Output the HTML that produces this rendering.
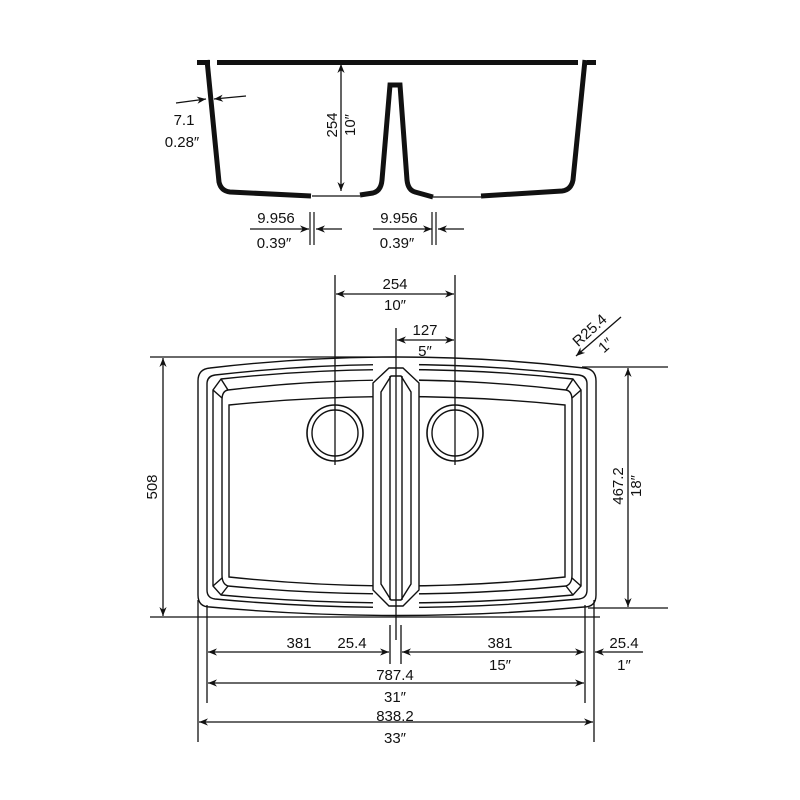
<!DOCTYPE html>
<html><head><meta charset="utf-8"><style>
html,body{margin:0;padding:0;background:#fff}
svg{display:block}
text{font-family:"Liberation Sans",sans-serif;font-size:15px;fill:#111;text-anchor:middle}
</style></head><body>
<svg width="800" height="800" viewBox="0 0 800 800" xmlns="http://www.w3.org/2000/svg">
<defs>
<marker id="a" viewBox="0 0 10 10" refX="10" refY="5" markerWidth="9" markerHeight="9" orient="auto-start-reverse" markerUnits="userSpaceOnUse"><path d="M0,1 L10,5 L0,9 L3,5 Z" fill="#111"/></marker>
</defs>
<g stroke="#111" fill="none">
<!-- Section view -->
<line x1="197" y1="62.5" x2="210" y2="62.5" stroke-width="5"/>
<line x1="217" y1="62.5" x2="578" y2="62.5" stroke-width="5"/>
<line x1="587" y1="62.5" x2="596" y2="62.5" stroke-width="5"/>
<path d="M207,60 L219,182 Q221,191 230,192 L311,196" stroke-width="5"/>
<path d="M360,195 L373,193 Q381,191 382,180 L390,85 L400,85 L407,180 Q408,190 415,192 L433,197" stroke-width="5"/>
<path d="M481,196 L562,191 Q571,190 573,180 L585,60" stroke-width="5"/>
<line x1="312" y1="196" x2="360" y2="196" stroke-width="1.2"/>
<line x1="433" y1="197" x2="481" y2="197" stroke-width="1.2"/>
<line x1="341" y1="64" x2="341" y2="191" stroke-width="1.3" marker-start="url(#a)" marker-end="url(#a)"/>
<line x1="176" y1="103" x2="206" y2="99" stroke-width="1.3" marker-end="url(#a)"/>
<line x1="246" y1="96" x2="214" y2="99" stroke-width="1.3" marker-end="url(#a)"/>
<line x1="250" y1="229" x2="309" y2="229" stroke-width="1.3" marker-end="url(#a)"/>
<line x1="342" y1="229" x2="316" y2="229" stroke-width="1.3" marker-end="url(#a)"/>
<line x1="310" y1="212" x2="310" y2="245" stroke-width="1.2"/>
<line x1="314" y1="212" x2="314" y2="245" stroke-width="1.2"/>
<line x1="373" y1="229" x2="432" y2="229" stroke-width="1.3" marker-end="url(#a)"/>
<line x1="464" y1="229" x2="438" y2="229" stroke-width="1.3" marker-end="url(#a)"/>
<line x1="432" y1="212" x2="432" y2="245" stroke-width="1.2"/>
<line x1="436" y1="212" x2="436" y2="245" stroke-width="1.2"/>

<!-- Plan view contours -->
<g stroke-width="1.4">
<path d="M210,368 Q397,346 584,368 Q596,369 596,381 L596,595 Q596,607 584,607 Q397,624 210,607 Q198,607 198,595 L198,381 Q198,369 210,368 Z"/>
<path d="M215,375 Q397,354 579,375 Q587,376 587,384 L587,590 Q587,598 579,599 Q397,616 215,599 Q207,598 207,590 L207,384 Q207,376 215,375 Z"/>
<path d="M221,379 Q397,360 573,379 L581,390 L581,586 L573,595 Q397,611 221,595 L213,586 L213,390 Z"/>
<path d="M228,390 Q397,370 566,390 Q572,391 572,400 L572,575 Q572,584 566,586 Q397,602 228,586 Q222,584 222,575 L222,400 Q222,391 228,390 Z"/>
<path d="M229,405 Q397,388 565,405 L565,577 Q397,595 229,577 Z"/>
<line x1="213" y1="390" x2="222" y2="398"/><line x1="221" y1="379" x2="228" y2="390"/>
<line x1="581" y1="390" x2="572" y2="398"/><line x1="573" y1="379" x2="566" y2="390"/>
<line x1="213" y1="586" x2="222" y2="578"/><line x1="221" y1="595" x2="228" y2="586"/>
<line x1="581" y1="586" x2="572" y2="578"/><line x1="573" y1="595" x2="566" y2="586"/>
</g>
<!-- divider -->
<rect x="373" y="362" width="46" height="250" fill="#fff" stroke="none"/>
<g stroke-width="1.4">
<path d="M373,383 L389,368 L403,368 L419,383 L419,590 L403,606 L389,606 L373,590 Z" fill="#fff"/>
<path d="M381,392 L391,376 L401,376 L411,392 L411,584 L401,600 L391,600 L381,584 Z"/>
<line x1="390" y1="376" x2="390" y2="600"/>
<line x1="402" y1="376" x2="402" y2="600"/>
</g>
<!-- drains -->
<circle cx="335" cy="433" r="28" stroke-width="1.6"/>
<circle cx="335" cy="433" r="23" stroke-width="1.4"/>
<circle cx="455" cy="433" r="28" stroke-width="1.6"/>
<circle cx="455" cy="433" r="23" stroke-width="1.4"/>

<!-- plan dims -->
<g stroke-width="1.3">
<line x1="335" y1="275" x2="335" y2="465"/>
<line x1="455" y1="275" x2="455" y2="465"/>
<line x1="396" y1="328" x2="396" y2="640"/>
<line x1="336" y1="294" x2="454" y2="294" marker-start="url(#a)" marker-end="url(#a)"/>
<line x1="397" y1="340" x2="454" y2="340" marker-start="url(#a)" marker-end="url(#a)"/>
<line x1="621" y1="317" x2="576" y2="356" marker-end="url(#a)"/>
<line x1="150" y1="357" x2="396" y2="357"/>
<line x1="150" y1="617" x2="600" y2="617"/>
<line x1="163" y1="358" x2="163" y2="616" marker-start="url(#a)" marker-end="url(#a)"/>
<line x1="582" y1="367" x2="668" y2="367"/>
<line x1="588" y1="608" x2="668" y2="608"/>
<line x1="628" y1="368" x2="628" y2="607" marker-start="url(#a)" marker-end="url(#a)"/>
<line x1="207" y1="605" x2="207" y2="703"/>
<line x1="585" y1="605" x2="585" y2="703"/>
<line x1="198" y1="600" x2="198" y2="742"/>
<line x1="594" y1="600" x2="594" y2="742"/>
<line x1="390" y1="625" x2="390" y2="664"/>
<line x1="401" y1="625" x2="401" y2="664"/>
<line x1="208" y1="652" x2="389" y2="652" marker-start="url(#a)" marker-end="url(#a)"/>
<line x1="402" y1="652" x2="584" y2="652" marker-start="url(#a)" marker-end="url(#a)"/>
<line x1="643" y1="652" x2="595" y2="652" marker-end="url(#a)"/>
<line x1="208" y1="683" x2="584" y2="683" marker-start="url(#a)" marker-end="url(#a)"/>
<line x1="199" y1="722" x2="593" y2="722" marker-start="url(#a)" marker-end="url(#a)"/>
</g>
</g>
<!-- labels -->
<text transform="translate(337,125) rotate(-90)">254</text>
<text transform="translate(355,125) rotate(-90)">10″</text>
<text x="184" y="125">7.1</text>
<text x="182" y="147">0.28″</text>
<text x="276" y="223">9.956</text>
<text x="274" y="248">0.39″</text>
<text x="399" y="223">9.956</text>
<text x="397" y="248">0.39″</text>
<text x="395" y="289">254</text>
<text x="395" y="310">10″</text>
<text x="425" y="335">127</text>
<text x="425" y="356">5″</text>
<text transform="translate(593,334) rotate(-42)">R25.4</text>
<text transform="translate(609,349) rotate(-42)">1″</text>
<text transform="translate(157,487) rotate(-90)">508</text>
<text transform="translate(623,486) rotate(-90)">467.2</text>
<text transform="translate(641,486) rotate(-90)">18″</text>
<text x="299" y="648">381</text>
<text x="352" y="648">25.4</text>
<text x="500" y="648">381</text>
<text x="500" y="670">15″</text>
<text x="624" y="648">25.4</text>
<text x="624" y="670">1″</text>
<text x="395" y="680">787.4</text>
<text x="395" y="702">31″</text>
<text x="395" y="721">838.2</text>
<text x="395" y="743">33″</text>
</svg>
</body></html>
